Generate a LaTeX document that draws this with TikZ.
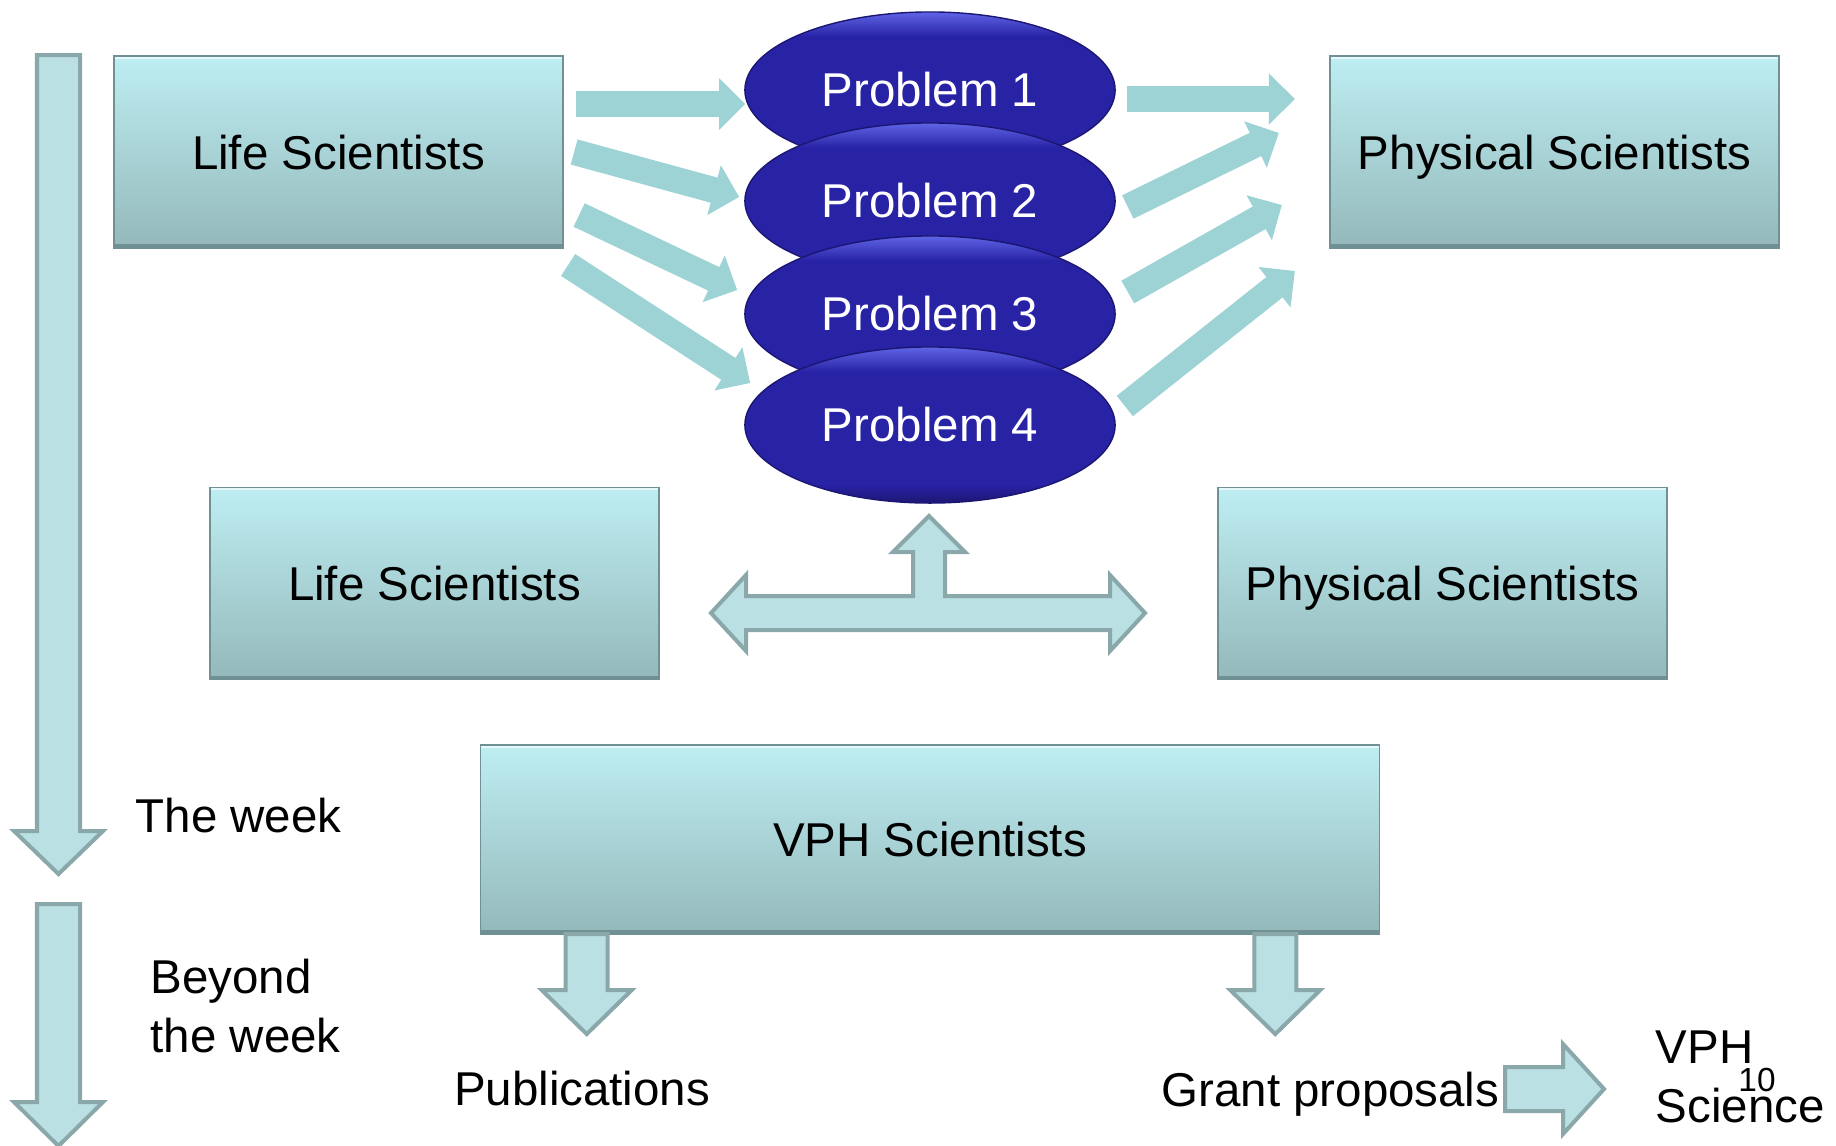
\documentclass[tikz,border=0pt]{standalone}
\usepackage{fontspec}
\setmainfont{Liberation Sans}
\usepackage{tikz}
\usetikzlibrary{shapes,arrows.meta,positioning,calc}

\definecolor{boxtop}{RGB}{190,238,242}
\definecolor{boxbot}{RGB}{148,184,186}
\definecolor{boxedge}{RGB}{112,145,148}
\definecolor{probmid}{RGB}{40,34,165}
\definecolor{probtop}{RGB}{95,100,230}
\definecolor{probbot}{RGB}{28,22,115}
\definecolor{flow}{RGB}{158,211,214}
\definecolor{blockfill}{RGB}{186,224,227}
\definecolor{blockedge}{RGB}{138,168,170}
\pgfdeclareverticalshading{probshade}{100bp}{color(0bp)=(probbot); color(25bp)=(probbot); color(31bp)=(probmid); color(67bp)=(probmid); color(75bp)=(probtop); color(100bp)=(probtop)}

\begin{document}
\begin{tikzpicture}[x=0.01cm, y=-0.01cm,
    every node/.style={font=\fontsize{13.5}{16.7}\selectfont},
    team/.style={rectangle, minimum width=4.49cm, minimum height=1.92cm, inner sep=0pt, outer sep=0pt,
        text depth=0pt, top color=boxtop, bottom color=boxbot, draw=boxedge, line width=0.4pt,
        path picture={
            \draw[boxedge, line width=0.08cm] (path picture bounding box.south west) -- (path picture bounding box.south east);
            \draw[white, opacity=0.6, line width=0.06cm] (path picture bounding box.north west) -- (path picture bounding box.north east);
        }},
    problem/.style={ellipse, minimum width=3.7cm, minimum height=1.56cm, inner sep=0pt,
        shading=probshade, draw=probbot, line width=0.4pt, text=white},
    flowarrow/.style={draw=flow, line width=0.26cm, -{Triangle[length=0.26cm, width=0.5cm]}},
    blockarrow/.style={draw=blockedge, fill=blockfill, line width=0.04cm},
    note/.style={inner sep=0pt}]
    \useasboundingbox (0,0) rectangle (1836,1145);

    % time line
    \draw[blockarrow] (37,55) -- (80,55) -- (80,831) -- (103,831) -- (58.5,874) -- (14,831) -- (37,831) -- cycle;
    \draw[blockarrow] (37,904) -- (80,904) -- (80,1102) -- (103,1102) -- (58.5,1146) -- (14,1102) -- (37,1102) -- cycle;
    \node[note, anchor=west] (week) at (135,816) {The week};
    \node[note, anchor=west, align=left] (beyond) at (150,1006) {Beyond\\the week};

    % the groups
    \node[team] (life1) at (338.5,152) {Life Scientists};
    \node[team] (phys1) at (1554.5,152) {Physical Scientists};
    \node[team] (life2) at (434.5,583.5) {Life Scientists};
    \node[team] (phys2) at (1442.5,583.5) {Physical Scientists};
    \node[team, minimum width=8.98cm, minimum height=1.89cm] (vph) at (930,839.5) {VPH Scientists};

    % the problems
    \foreach \i/\y in {1/90,2/201,3/314,4/425}
        \node[problem] (p\i) at (930,\y) {Problem \i};

    \draw[flowarrow] ([shift={(13,-48)}]life1.east) -- ([shift={(1,14)}]p1.west);
    \draw[flowarrow] ([shift={(11,0)}]life1.east) -- ([shift={(-5,-4)}]p2.west);
    \draw[flowarrow] ([shift={(16,63)}]life1.east) -- ([shift={(-7,-24)}]p3.west);
    \draw[flowarrow] ([shift={(5,113)}]life1.east) -- ([shift={(6,-42)}]p4.west);

    \draw[flowarrow] ([shift={(11,9)}]p1.east) -- ([shift={(-35,-53)}]phys1.west);
    \draw[flowarrow] ([shift={(12,6)}]p2.east) -- ([shift={(-51,-19)}]phys1.west);
    \draw[flowarrow] ([shift={(12,-22)}]p3.east) -- ([shift={(-48,53)}]phys1.west);
    \draw[flowarrow] ([shift={(9,-19)}]p4.east) -- ([shift={(-35,119)}]phys1.west);

    % working together
    \coordinate (hub) at (929,613);
    \begin{scope}[shift={(hub)}]
        \draw[blockarrow] (-218,0) -- (-183,-38) -- (-183,-17) -- (-16,-17) -- (-16,-61) -- (-36,-61) -- (0,-97)
            -- (36,-61) -- (16,-61) -- (16,-17) -- (181,-17) -- (181,-38) -- (216,0) -- (181,38) -- (181,17)
            -- (-183,17) -- (-183,38) -- cycle;
    \end{scope}

    % outputs
    \node[note] (pubs) at (582,1089) {Publications};
    \node[note, anchor=east, text depth=0pt] (grant) at (1500,1089) {Grant proposals};
    \node[note, anchor=west, align=left] (vphsci) at (1655,1077) {VPH\\Science};
    \draw[blockarrow] ([shift={(85,0)}]vph.south west) -- ++(42,0) -- ++(0,56) -- ++(24,0) -- ++(-45,44) -- ++(-45,-44) -- ++(24,0) -- cycle;
    \draw[blockarrow] ([shift={(-125,0)}]vph.south east) -- ++(42,0) -- ++(0,56) -- ++(24,0) -- ++(-45,44) -- ++(-45,-44) -- ++(24,0) -- cycle;
    \draw[blockarrow] ([shift={(5,-22)}]grant.east) -- ++(58,0) -- ++(0,-23) -- ++(41,45) -- ++(-41,45) -- ++(0,-23) -- ++(-58,0) -- cycle;
    \node[note, font=\fontsize{9.5}{11}\selectfont] (pageno) at (1757,1080) {10};
\end{tikzpicture}
\end{document}
